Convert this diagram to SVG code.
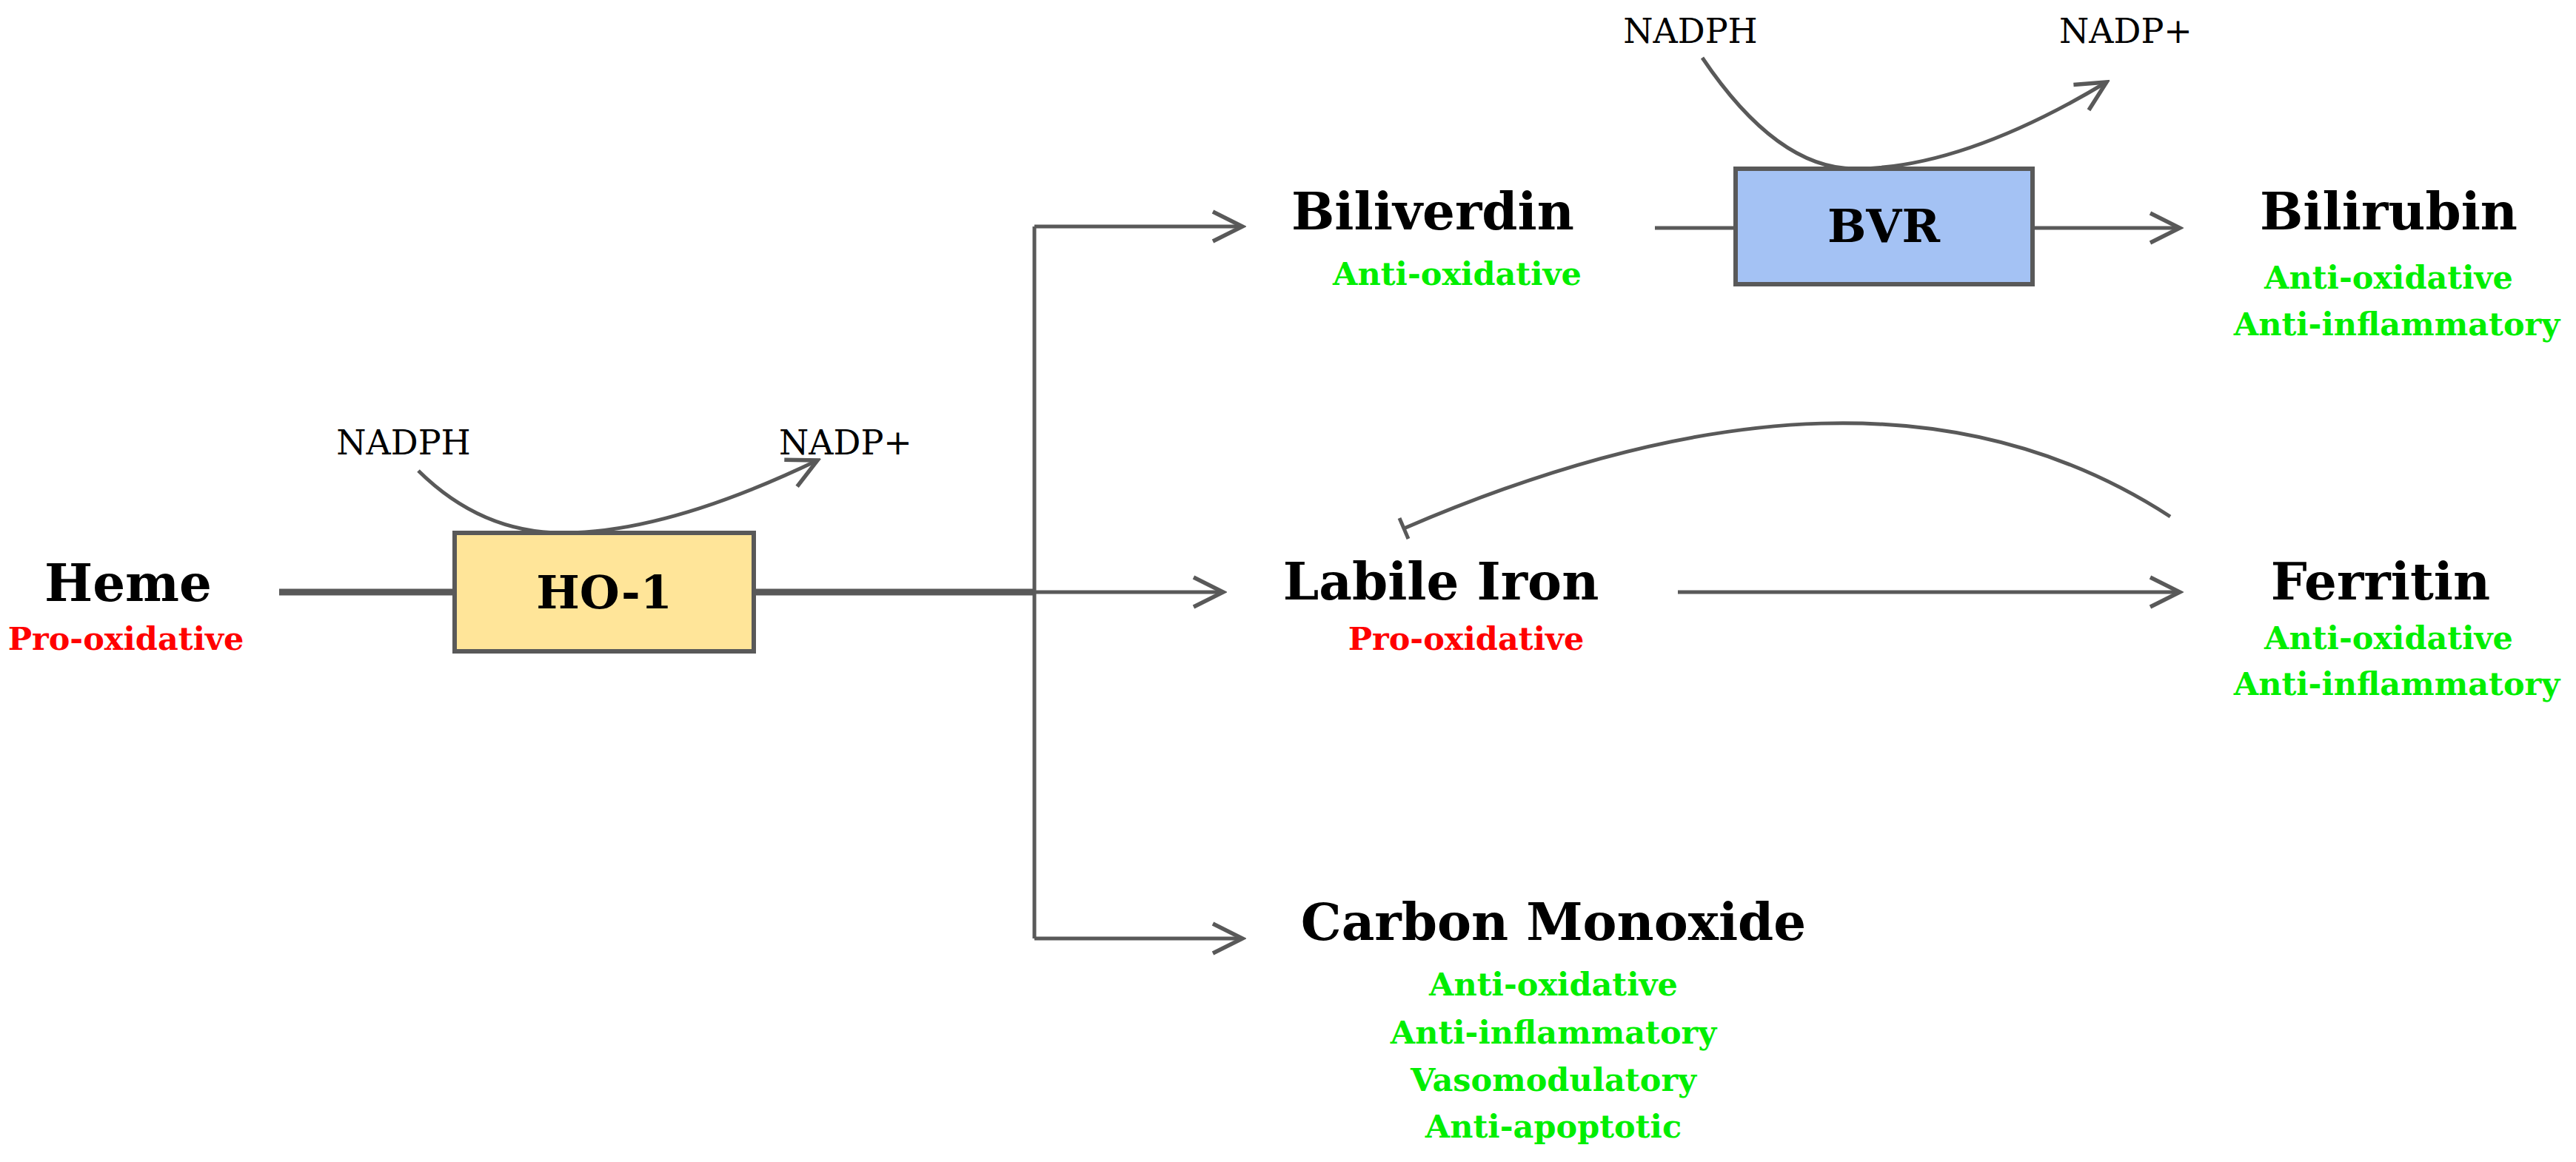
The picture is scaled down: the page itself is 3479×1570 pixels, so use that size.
<svg xmlns="http://www.w3.org/2000/svg" width="3479" height="1570" viewBox="0 0 3479 1570">
<style>
.t{font-family:"DejaVu Serif","Liberation Serif",serif;font-weight:bold;fill:#000;text-anchor:middle}
.big{font-size:69px}
.sm{font-size:46px;font-weight:normal}
.g{font-family:"DejaVu Serif","Liberation Serif",serif;font-weight:bold;font-size:43px;fill:#00ee00;text-anchor:middle}
.r{font-family:"DejaVu Serif","Liberation Serif",serif;font-weight:bold;font-size:43px;fill:#ff0000;text-anchor:middle}
.c{fill:none;stroke:#595959;stroke-width:5}
.box{stroke:#595959;stroke-width:6}
</style>
<defs>
<marker id="a" viewBox="0 0 20 20" refX="18" refY="10" markerWidth="10" markerHeight="10" markerUnits="strokeWidth" orient="auto">
<path d="M2,2 L18,10 L2,18" fill="none" stroke="#595959" stroke-width="2.2"/>
</marker>
</defs>
<g id="connectors">
<line class="c" x1="377" y1="800" x2="614" y2="800" style="stroke-width:9"/>
<line class="c" x1="1018" y1="800" x2="1397" y2="800" style="stroke-width:9"/>
<line class="c" x1="1397" y1="800" x2="1652" y2="800" marker-end="url(#a)"/>
<line class="c" x1="1397" y1="306" x2="1397" y2="1268"/>
<line class="c" x1="1397" y1="306" x2="1678" y2="306" marker-end="url(#a)"/>
<line class="c" x1="1397" y1="1268" x2="1678" y2="1268" marker-end="url(#a)"/>
<path class="c" d="M565,636 Q650,720 760,720 Q900,720 1104,622" marker-end="url(#a)"/>
<line class="c" x1="2235" y1="308" x2="2344" y2="308"/>
<line class="c" x1="2745" y1="308" x2="2944" y2="308" marker-end="url(#a)"/>
<path class="c" d="M2299,78 Q2400,228 2505,228 Q2650,228 2845,111" marker-end="url(#a)"/>
<line class="c" x1="2266" y1="800" x2="2944" y2="800" marker-end="url(#a)"/>
<path class="c" d="M2931,698 C2650,515 2300,540 1896,714"/>
<line class="c" x1="1890" y1="700" x2="1902" y2="728"/>
</g>
<g id="heme"><text class="t big" x="173" y="812">Heme</text><text class="r" x="170" y="878">Pro-oxidative</text></g>
<g id="ho1"><rect class="box" x="614" y="720" width="404" height="160" fill="#ffe599"/><text class="t" x="816" y="822" font-size="62">HO-1</text></g>
<g id="nadph1"><text class="t sm" x="545" y="614">NADPH</text></g>
<g id="nadp1"><text class="t sm" x="1142" y="614">NADP+</text></g>
<g id="biliverdin"><text class="t big" x="1935" y="310">Biliverdin</text><text class="g" x="1968" y="385">Anti-oxidative</text></g>
<g id="bvr"><rect class="box" x="2344" y="228" width="401" height="156" fill="#a4c2f4"/><text class="t" x="2544" y="327" font-size="62">BVR</text></g>
<g id="nadph2"><text class="t sm" x="2283" y="58">NADPH</text></g>
<g id="nadp2"><text class="t sm" x="2871" y="58">NADP+</text></g>
<g id="bilirubin"><text class="t big" x="3226" y="310">Bilirubin</text><text class="g" x="3226" y="390">Anti-oxidative</text><text class="g" x="3237" y="453">Anti-inflammatory</text></g>
<g id="labile"><text class="t big" x="1946" y="810">Labile Iron</text><text class="r" x="1980" y="878">Pro-oxidative</text></g>
<g id="ferritin"><text class="t big" x="3215" y="810">Ferritin</text><text class="g" x="3226" y="877">Anti-oxidative</text><text class="g" x="3237" y="939">Anti-inflammatory</text></g>
<g id="co"><text class="t big" x="2098" y="1270">Carbon Monoxide</text><text class="g" x="2098" y="1345">Anti-oxidative</text><text class="g" x="2098" y="1410">Anti-inflammatory</text><text class="g" x="2098" y="1474">Vasomodulatory</text><text class="g" x="2098" y="1537">Anti-apoptotic</text></g>
</svg>
